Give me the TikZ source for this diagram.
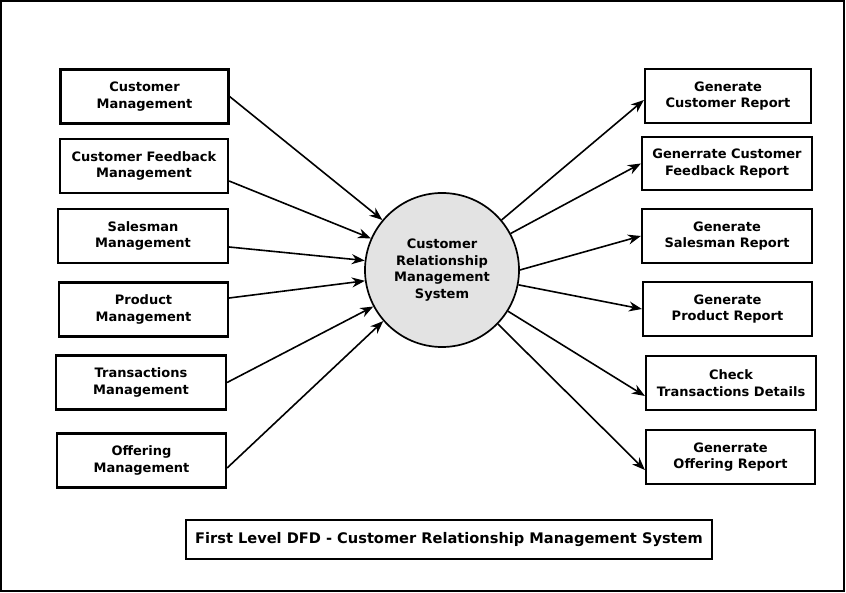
\documentclass[tikz,border=0pt]{standalone}
\usepackage{fontspec}
\setmainfont{DejaVu Sans}
\usetikzlibrary{arrows.meta,calc}
\begin{document}
\begin{tikzpicture}[x=1pt,y=-1pt,
  box/.style={draw,line width=2.2pt,inner sep=0pt,align=center,
    minimum width=168pt,minimum height=54pt,
    font=\fontsize{13}{16.5}\selectfont\bfseries},
  proc/.style={draw,line width=1.7pt,circle,fill=gray!22,minimum size=154pt,inner sep=0pt,align=center,
    font=\fontsize{13}{16.5}\selectfont\bfseries},
  flow/.style={line width=1.6pt,-{Stealth[length=13pt,width=10pt]}},
  titlebox/.style={draw,line width=2.2pt,inner sep=0pt,minimum width=526pt,minimum height=39pt,
    font=\fontsize{14.6}{17}\selectfont\bfseries}]
\useasboundingbox (0,0) rectangle (846,593);
\draw[line width=2.2pt] (1,1) rectangle (844,591);
% left boxes
\node[box] (cm) at (144.5,96.5) {Customer\\Management};
\node[box] (cf) at (144,166) {Customer Feedback\\Management};
\node[box,minimum width=170pt] (sm) at (143,236) {Salesman\\Management};
\node[box,minimum width=169pt] (pm) at (143.5,309.5) {Product\\Management};
\node[box,minimum width=170pt] (tm) at (141,382.5) {Transactions\\Management};
\node[box,minimum width=169pt] (om) at (141.5,460.5) {Offering\\Management};
% process
\node[proc] (crm) at (442,270) {Customer\\Relationship\\Management\\System};
% right boxes
\node[box,minimum width=166pt] (gcr) at (728,96) {Generate\\Customer Report};
\node[box,minimum width=170pt,minimum height=53pt] (gfr) at (727,163.5) {Generrate Customer\\Feedback Report};
\node[box,minimum width=170pt] (gsr) at (727,236) {Generate\\Salesman Report};
\node[box,minimum width=169pt] (gpr) at (727.5,309) {Generate\\Product Report};
\node[box,minimum width=170pt] (ctd) at (731,383) {Check\\Transactions Details};
\node[box,minimum width=169pt] (gor) at (730.5,457) {Generrate\\Offering Report};
% title
\node[titlebox] (title) at (449,539.5) {First Level DFD - Customer Relationship Management System};
% inflows
\draw[flow] (cm.east) -- (crm.140.6);
\draw[flow] ($(cf.east)+(0,15)$) -- (crm.156.6);
\draw[flow] ($(sm.east)+(0,11)$) -- (crm.173.7);
\draw[flow] ($(pm.east)+(0,-11.5)$) -- (crm.188.4);
\draw[flow] (tm.east) -- (crm.208.2);
\draw[flow] ($(om.east)+(0,7.5)$) -- (crm.221.5);
% outflows
\draw[flow] (crm.40.6) -- ($(gcr.west)+(0,4)$);
\draw[flow] (crm.28.5) -- (gfr.west);
\draw[flow] (crm.0.7) -- (gsr.west);
\draw[flow] (crm.-11.6) -- (gpr.west);
\draw[flow] (crm.-32.3) -- ($(ctd.west)+(0,13)$);
\draw[flow] (crm.-44.5) -- ($(gor.west)+(0,13)$);
\end{tikzpicture}
\end{document}
